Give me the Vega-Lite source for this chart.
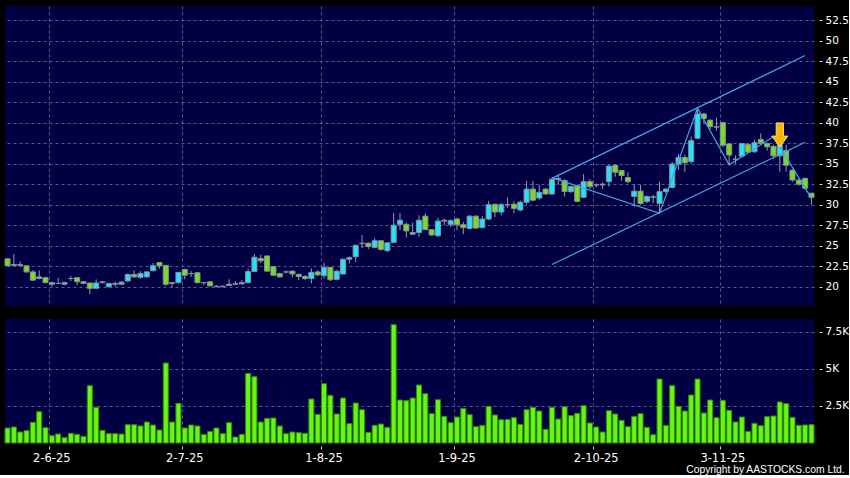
{
  "$schema": "https://vega.github.io/schema/vega-lite/v6.json",
  "background": "#000000",
  "padding": {"left": 4, "top": 6, "right": 0, "bottom": 0},
  "config": {
    "view": {"fill": "#000042", "stroke": null},
    "axis": {
      "gridColor": "#5a5a90", "gridDash": [3, 3], "gridWidth": 1,
      "labelColor": "#ffffff", "labelFont": "DejaVu Sans", "labelFontSize": 10.5,
      "tickColor": "#d0d0d0", "domain": false, "title": null, "labelOverlap": false
    }
  },
  "title": {"text": "Copyright by AASTOCKS.com Ltd.", "orient": "bottom", "anchor": "end", "frame": "bounds", "font": "Liberation Sans", "fontSize": 10.3, "fontWeight": "normal", "color": "#ffffff", "offset": 1, "dx": -4},
  "datasets": {
    "px": [
      {"d":"2025-05-22","o":23.4,"h":23.45,"l":22.5,"c":22.55,"v":1013},
      {"d":"2025-05-23","o":22.6,"h":24.0,"l":22.5,"c":22.7,"v":1080},
      {"d":"2025-05-26","o":22.7,"h":23.1,"l":22.5,"c":22.6,"v":743},
      {"d":"2025-05-27","o":22.55,"h":22.6,"l":21.7,"c":21.8,"v":833},
      {"d":"2025-05-28","o":21.8,"h":22.0,"l":20.7,"c":20.8,"v":1396},
      {"d":"2025-05-29","o":21.0,"h":22.0,"l":20.9,"c":21.2,"v":2117},
      {"d":"2025-05-30","o":21.1,"h":21.2,"l":20.4,"c":20.5,"v":1036},
      {"d":"2025-06-02","o":20.3,"h":20.6,"l":20.0,"c":20.5,"v":495},
      {"d":"2025-06-03","o":20.4,"h":21.1,"l":20.3,"c":20.4,"v":608},
      {"d":"2025-06-04","o":20.3,"h":20.6,"l":20.2,"c":20.5,"v":360},
      {"d":"2025-06-05","o":21.0,"h":21.3,"l":20.7,"c":21.0,"v":653},
      {"d":"2025-06-06","o":21.1,"h":21.2,"l":20.2,"c":20.6,"v":585},
      {"d":"2025-06-09","o":20.4,"h":20.7,"l":20.3,"c":20.6,"v":450},
      {"d":"2025-06-10","o":20.45,"h":20.5,"l":19.1,"c":19.8,"v":3873},
      {"d":"2025-06-11","o":19.8,"h":20.9,"l":19.8,"c":20.45,"v":2410},
      {"d":"2025-06-12","o":20.5,"h":20.7,"l":20.4,"c":20.6,"v":856},
      {"d":"2025-06-13","o":20.0,"h":20.4,"l":19.9,"c":20.4,"v":630},
      {"d":"2025-06-16","o":20.3,"h":20.6,"l":20.0,"c":20.4,"v":630},
      {"d":"2025-06-17","o":20.3,"h":20.7,"l":20.2,"c":20.55,"v":608},
      {"d":"2025-06-18","o":20.7,"h":21.6,"l":20.6,"c":21.5,"v":1239},
      {"d":"2025-06-19","o":21.5,"h":22.0,"l":21.1,"c":21.2,"v":1239},
      {"d":"2025-06-20","o":21.15,"h":21.9,"l":21.0,"c":21.6,"v":1149},
      {"d":"2025-06-23","o":21.2,"h":21.9,"l":21.1,"c":21.8,"v":1419},
      {"d":"2025-06-24","o":21.95,"h":22.9,"l":21.9,"c":22.55,"v":1216},
      {"d":"2025-06-25","o":22.95,"h":23.0,"l":22.2,"c":22.55,"v":878},
      {"d":"2025-06-26","o":22.6,"h":22.6,"l":20.1,"c":20.3,"v":5405},
      {"d":"2025-06-27","o":20.4,"h":20.6,"l":19.95,"c":20.5,"v":1419},
      {"d":"2025-06-30","o":20.5,"h":21.8,"l":20.4,"c":21.75,"v":2680},
      {"d":"2025-07-02","o":22.1,"h":22.2,"l":20.9,"c":21.4,"v":1013},
      {"d":"2025-07-03","o":21.6,"h":21.9,"l":21.2,"c":21.6,"v":1216},
      {"d":"2025-07-04","o":21.7,"h":21.8,"l":20.4,"c":20.5,"v":1149},
      {"d":"2025-07-07","o":20.5,"h":20.6,"l":20.2,"c":20.5,"v":585},
      {"d":"2025-07-08","o":20.6,"h":20.6,"l":20.05,"c":20.1,"v":788},
      {"d":"2025-07-09","o":20.05,"h":20.2,"l":19.95,"c":20.0,"v":1013},
      {"d":"2025-07-10","o":20.0,"h":20.2,"l":19.95,"c":20.05,"v":630},
      {"d":"2025-07-11","o":20.15,"h":20.9,"l":20.1,"c":20.3,"v":1374},
      {"d":"2025-07-14","o":20.3,"h":20.7,"l":20.2,"c":20.35,"v":405},
      {"d":"2025-07-15","o":20.35,"h":20.8,"l":20.3,"c":20.5,"v":585},
      {"d":"2025-07-16","o":20.5,"h":22.2,"l":20.4,"c":21.85,"v":4707},
      {"d":"2025-07-17","o":21.85,"h":24.0,"l":21.8,"c":23.6,"v":4482},
      {"d":"2025-07-18","o":23.45,"h":23.9,"l":22.9,"c":23.15,"v":1419},
      {"d":"2025-07-21","o":23.75,"h":23.8,"l":21.85,"c":21.9,"v":1666},
      {"d":"2025-07-22","o":22.45,"h":22.5,"l":21.3,"c":21.4,"v":1689},
      {"d":"2025-07-23","o":21.6,"h":21.7,"l":21.1,"c":21.2,"v":1149},
      {"d":"2025-07-24","o":21.8,"h":22.0,"l":21.6,"c":21.8,"v":630},
      {"d":"2025-07-25","o":21.9,"h":22.0,"l":21.15,"c":21.55,"v":743},
      {"d":"2025-07-28","o":21.5,"h":21.6,"l":20.8,"c":21.25,"v":698},
      {"d":"2025-07-29","o":21.0,"h":21.4,"l":20.8,"c":21.25,"v":653},
      {"d":"2025-07-30","o":21.0,"h":22.25,"l":20.4,"c":21.75,"v":2973},
      {"d":"2025-07-31","o":21.8,"h":22.0,"l":21.3,"c":21.45,"v":1937},
      {"d":"2025-08-01","o":21.35,"h":22.9,"l":21.0,"c":22.35,"v":4009},
      {"d":"2025-08-04","o":22.35,"h":22.4,"l":20.7,"c":20.85,"v":3220},
      {"d":"2025-08-05","o":20.9,"h":22.0,"l":20.8,"c":21.9,"v":1959},
      {"d":"2025-08-06","o":21.55,"h":23.4,"l":21.5,"c":23.35,"v":3040},
      {"d":"2025-08-07","o":23.35,"h":23.7,"l":22.85,"c":23.55,"v":1306},
      {"d":"2025-08-08","o":23.65,"h":25.1,"l":23.0,"c":25.05,"v":2702},
      {"d":"2025-08-11","o":25.25,"h":26.3,"l":24.7,"c":25.3,"v":2252},
      {"d":"2025-08-12","o":25.3,"h":25.4,"l":24.6,"c":24.9,"v":720},
      {"d":"2025-08-13","o":24.8,"h":25.9,"l":24.7,"c":25.6,"v":1194},
      {"d":"2025-08-14","o":25.6,"h":25.65,"l":24.4,"c":24.55,"v":1284},
      {"d":"2025-08-15","o":24.4,"h":25.4,"l":24.2,"c":25.35,"v":1058},
      {"d":"2025-08-18","o":25.4,"h":29.0,"l":25.3,"c":27.5,"v":7995},
      {"d":"2025-08-19","o":27.6,"h":29.0,"l":26.9,"c":28.1,"v":2905},
      {"d":"2025-08-20","o":27.6,"h":27.8,"l":26.0,"c":26.8,"v":2860},
      {"d":"2025-08-21","o":26.4,"h":27.8,"l":26.3,"c":26.6,"v":3040},
      {"d":"2025-08-22","o":26.6,"h":28.7,"l":26.1,"c":28.1,"v":3918},
      {"d":"2025-08-25","o":28.6,"h":28.95,"l":26.9,"c":26.95,"v":3333},
      {"d":"2025-08-26","o":26.95,"h":27.0,"l":26.2,"c":26.3,"v":1982},
      {"d":"2025-08-27","o":26.2,"h":28.4,"l":26.1,"c":28.0,"v":2928},
      {"d":"2025-08-28","o":28.0,"h":28.3,"l":27.5,"c":28.1,"v":1802},
      {"d":"2025-08-29","o":27.6,"h":28.2,"l":27.3,"c":28.05,"v":1374},
      {"d":"2025-09-01","o":28.25,"h":28.4,"l":26.9,"c":27.55,"v":1757},
      {"d":"2025-09-02","o":27.55,"h":27.9,"l":26.4,"c":27.2,"v":2342},
      {"d":"2025-09-03","o":27.1,"h":28.7,"l":27.0,"c":28.6,"v":1914},
      {"d":"2025-09-04","o":28.6,"h":28.7,"l":27.0,"c":27.15,"v":1103},
      {"d":"2025-09-05","o":27.2,"h":28.65,"l":27.1,"c":28.25,"v":1194},
      {"d":"2025-09-08","o":28.25,"h":30.45,"l":28.1,"c":30.0,"v":2477},
      {"d":"2025-09-09","o":30.05,"h":30.1,"l":28.5,"c":29.1,"v":1892},
      {"d":"2025-09-10","o":29.1,"h":30.2,"l":28.7,"c":30.0,"v":1576},
      {"d":"2025-09-11","o":30.0,"h":30.9,"l":29.6,"c":30.0,"v":1599},
      {"d":"2025-09-12","o":30.05,"h":30.4,"l":28.95,"c":29.55,"v":1712},
      {"d":"2025-09-15","o":29.35,"h":30.5,"l":29.2,"c":30.3,"v":1261},
      {"d":"2025-09-16","o":30.3,"h":32.9,"l":30.0,"c":31.9,"v":2252},
      {"d":"2025-09-17","o":31.9,"h":32.9,"l":30.4,"c":30.55,"v":2410},
      {"d":"2025-09-18","o":30.8,"h":32.4,"l":30.6,"c":31.5,"v":2162},
      {"d":"2025-09-19","o":31.9,"h":32.0,"l":31.2,"c":31.3,"v":923},
      {"d":"2025-09-22","o":31.3,"h":33.3,"l":31.2,"c":33.1,"v":2410},
      {"d":"2025-09-23","o":33.1,"h":33.7,"l":32.4,"c":33.2,"v":1621},
      {"d":"2025-09-24","o":32.95,"h":33.1,"l":31.0,"c":31.6,"v":2455},
      {"d":"2025-09-25","o":31.6,"h":32.3,"l":31.4,"c":32.2,"v":1847},
      {"d":"2025-09-26","o":32.3,"h":32.4,"l":30.3,"c":30.4,"v":2004},
      {"d":"2025-09-29","o":30.9,"h":33.75,"l":30.8,"c":32.8,"v":2522},
      {"d":"2025-09-30","o":32.8,"h":33.1,"l":31.9,"c":32.2,"v":1351},
      {"d":"2025-10-02","o":32.4,"h":32.6,"l":32.1,"c":32.4,"v":1081},
      {"d":"2025-10-03","o":32.4,"h":32.7,"l":31.9,"c":32.5,"v":743},
      {"d":"2025-10-06","o":32.8,"h":34.8,"l":32.2,"c":34.7,"v":2184},
      {"d":"2025-10-08","o":34.8,"h":34.9,"l":33.4,"c":33.95,"v":1959},
      {"d":"2025-10-09","o":34.15,"h":34.2,"l":32.9,"c":33.55,"v":1531},
      {"d":"2025-10-10","o":33.3,"h":33.95,"l":32.6,"c":32.8,"v":1103},
      {"d":"2025-10-13","o":31.0,"h":32.5,"l":29.75,"c":31.65,"v":1802},
      {"d":"2025-10-14","o":31.65,"h":32.4,"l":30.0,"c":30.15,"v":1982},
      {"d":"2025-10-15","o":30.4,"h":31.1,"l":30.2,"c":31.0,"v":1058},
      {"d":"2025-10-16","o":30.9,"h":31.2,"l":30.2,"c":30.95,"v":563},
      {"d":"2025-10-17","o":30.15,"h":32.8,"l":28.95,"c":31.6,"v":4324},
      {"d":"2025-10-20","o":31.6,"h":32.0,"l":31.4,"c":31.9,"v":1194},
      {"d":"2025-10-21","o":32.1,"h":35.2,"l":32.0,"c":34.95,"v":3873},
      {"d":"2025-10-22","o":34.95,"h":36.2,"l":34.2,"c":35.75,"v":2477},
      {"d":"2025-10-23","o":35.75,"h":36.1,"l":34.0,"c":35.1,"v":2162},
      {"d":"2025-10-24","o":35.25,"h":38.3,"l":35.0,"c":37.8,"v":3243},
      {"d":"2025-10-27","o":38.1,"h":41.75,"l":38.0,"c":41.05,"v":4324},
      {"d":"2025-10-28","o":41.05,"h":41.2,"l":39.9,"c":40.5,"v":2027},
      {"d":"2025-10-30","o":40.3,"h":40.4,"l":39.2,"c":39.5,"v":2905},
      {"d":"2025-10-31","o":39.5,"h":40.6,"l":39.0,"c":39.45,"v":1712},
      {"d":"2025-11-03","o":40.0,"h":40.1,"l":37.0,"c":37.25,"v":2883},
      {"d":"2025-11-04","o":37.4,"h":37.5,"l":34.85,"c":36.05,"v":2207},
      {"d":"2025-11-05","o":35.55,"h":36.0,"l":35.0,"c":35.5,"v":1419},
      {"d":"2025-11-06","o":35.9,"h":37.5,"l":35.8,"c":37.45,"v":1757},
      {"d":"2025-11-07","o":37.35,"h":37.5,"l":36.3,"c":36.4,"v":788},
      {"d":"2025-11-10","o":36.45,"h":37.9,"l":36.3,"c":37.55,"v":1329},
      {"d":"2025-11-11","o":37.95,"h":38.7,"l":37.3,"c":37.5,"v":1171},
      {"d":"2025-11-12","o":37.45,"h":37.6,"l":36.6,"c":37.05,"v":1779},
      {"d":"2025-11-13","o":37.1,"h":37.3,"l":35.6,"c":35.95,"v":1824},
      {"d":"2025-11-14","o":35.95,"h":37.5,"l":34.0,"c":37.3,"v":2770},
      {"d":"2025-11-17","o":36.6,"h":37.3,"l":34.0,"c":34.8,"v":2657},
      {"d":"2025-11-18","o":34.2,"h":34.3,"l":32.8,"c":33.0,"v":1734},
      {"d":"2025-11-19","o":33.0,"h":33.1,"l":32.3,"c":32.5,"v":1194},
      {"d":"2025-11-20","o":33.2,"h":33.3,"l":31.8,"c":32.0,"v":1216},
      {"d":"2025-11-21","o":31.4,"h":31.4,"l":30.0,"c":30.9,"v":1239}
    ],
    "lines": [
      {"s":"up","d":"2025-09-22","p":33.2},
      {"s":"up","d":"2025-11-20","p":48.17},
      {"s":"lo","d":"2025-09-22","p":22.7},
      {"s":"lo","d":"2025-11-20","p":37.6},
      {"s":"zz","d":"2025-09-22","p":33.3},
      {"s":"zz","d":"2025-10-17","p":28.95},
      {"s":"zz","d":"2025-10-27","p":41.75},
      {"s":"zz","d":"2025-11-04","p":34.85},
      {"s":"zz","d":"2025-11-13","p":38.3},
      {"s":"zz","d":"2025-11-21","p":30.77}
    ],
    "arrow": [{"d":"2025-11-14","p":38.5}]
  },
  "spacing": 13,
  "vconcat": [
    {
      "width": 809,
      "height": 300,
      "layer": [
        {
          "data": {"name": "px"},
          "mark": {"type": "rule", "color": "#9a9aae", "strokeWidth": 1},
          "encoding": {
            "x": {"field": "d", "type": "ordinal", "scale": {"type": "band", "paddingInner": 0.2, "paddingOuter": 0},
                  "axis": {"values": ["2025-06-02","2025-07-02","2025-08-01","2025-09-01","2025-10-02","2025-11-03"], "bandPosition": 0, "labels": false, "ticks": false, "grid": true}},
            "y": {"field": "l", "type": "quantitative", "scale": {"domain": [17.65, 54.21], "nice": false, "zero": false},
                  "axis": {"orient": "right", "values": [20,22.5,25,27.5,30,32.5,35,37.5,40,42.5,45,47.5,50,52.5], "format": ".1~f", "offset": 5, "tickSize": 3, "labelPadding": 3, "grid": true, "labelOverlap": false}},
            "y2": {"field": "h"}
          }
        },
        {
          "data": {"name": "px"},
          "mark": {"type": "bar", "stroke": "#8c8ca0", "strokeWidth": 1},
          "encoding": {
            "x": {"field": "d", "type": "ordinal"},
            "y": {"field": "o", "type": "quantitative",
                  "axis": {"orient": "right", "values": [20,22.5,25,27.5,30,32.5,35,37.5,40,42.5,45,47.5,50,52.5], "format": ".1~f", "offset": 5, "tickSize": 3, "labelPadding": 3, "grid": true, "labelOverlap": false}},
            "y2": {"field": "c"},
            "color": {"condition": {"test": "datum.c >= datum.o", "value": "#22e4f4"}, "value": "#72e020"}
          }
        },
        {
          "data": {"name": "lines"},
          "mark": {"type": "line", "color": "#3fa6e6", "strokeWidth": 1.2},
          "encoding": {
            "x": {"field": "d", "type": "ordinal"},
            "y": {"field": "p", "type": "quantitative",
                  "axis": {"orient": "right", "values": [20,22.5,25,27.5,30,32.5,35,37.5,40,42.5,45,47.5,50,52.5], "format": ".1~f", "offset": 5, "tickSize": 3, "labelPadding": 3, "grid": true, "labelOverlap": false}},
            "detail": {"field": "s"}
          }
        },
        {
          "data": {"name": "arrow"},
          "mark": {"type": "point", "shape": "M-0.3,-1L0.3,-1L0.3,0.1L0.67,0.1L0,1L-0.67,0.1L-0.3,0.1Z", "size": 576, "filled": true, "fill": "#f7b500", "stroke": "#ffe070", "strokeWidth": 1, "opacity": 1},
          "encoding": {
            "x": {"field": "d", "type": "ordinal"},
            "y": {"field": "p", "type": "quantitative",
                  "axis": {"orient": "right", "values": [20,22.5,25,27.5,30,32.5,35,37.5,40,42.5,45,47.5,50,52.5], "format": ".1~f", "offset": 5, "tickSize": 3, "labelPadding": 3, "grid": true, "labelOverlap": false}}
          }
        }
      ]
    },
    {
      "width": 809,
      "height": 124,
      "data": {"name": "px"},
      "mark": {"type": "bar", "color": "#66f514", "stroke": "#2f8a00", "strokeWidth": 1},
      "encoding": {
        "x": {"field": "d", "type": "ordinal", "scale": {"type": "band", "paddingInner": 0.2, "paddingOuter": 0},
              "axis": {"values": ["2025-06-02","2025-07-02","2025-08-01","2025-09-01","2025-10-02","2025-11-03"], "bandPosition": 0, "labelAngle": 0, "labelFontSize": 11.5, "offset": 3, "tickSize": 3, "labelPadding": 3, "grid": true,
                       "labelExpr": "toNumber(substring(datum.value,8,10)) + '-' + toNumber(substring(datum.value,5,7)) + '-' + substring(datum.value,2,4)"}},
        "y": {"field": "v", "type": "quantitative", "scale": {"domain": [0, 8378], "nice": false},
              "axis": {"orient": "right", "values": [2500, 5000, 7500], "labelExpr": "datum.value/1000 + 'K'", "offset": 5, "tickSize": 3, "labelPadding": 3, "grid": true}}
      }
    }
  ]
}
